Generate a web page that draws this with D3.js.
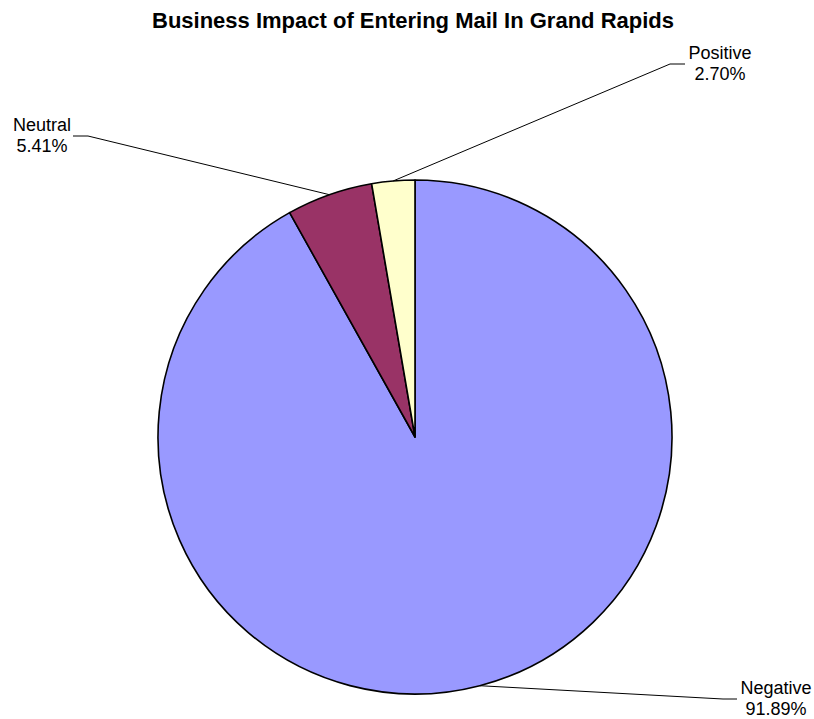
<!DOCTYPE html>
<html>
<head>
<meta charset="utf-8">
<script src="https://cdn.jsdelivr.net/npm/d3@7"></script>
<style>
  body { margin: 0; background: #fff; }
  svg { display: block; font-family: "Liberation Sans", Arial, sans-serif; }
</style>
</head>
<body>
<div id="chart"></div>
<script>
// chart data
const categories = ["Negative", "Neutral", "Positive"];
const values = [91.89, 5.41, 2.70];
const colors = ["#9999FF", "#993366", "#FFFFCC"];
const title = "Business Impact of Entering Mail In Grand Rapids";

const width = 814;
const height = 719;
const cx = 415, cy = 437, radius = 257;

// where each label sits (elbow of leader line and text centre)
const labelSpots = {
    Negative: { elbow: [723, 699], end: [737, 699], text: [776, 694] },
    Neutral: { elbow: [88, 136], end: [73, 136], text: [42, 131] },
    Positive: { elbow: [670, 64], end: [685, 64], text: [720, 59] }
};

const svg = d3.select("#chart").append("svg")
    .attr("width", width)
    .attr("height", height);

svg.append("text")
    .attr("x", 413)
    .attr("y", 28)
    .attr("text-anchor", "middle")
    .style("font-size", "22px")
    .style("font-weight", "bold")
    .text(title);

const data = categories.map((c, i) => ({ name: c, value: values[i], color: colors[i] }));

const pie = d3.pie()
    .sort(null)
    .value(d => d.value);

const arcs = pie(data);

const arc = d3.arc()
    .innerRadius(0)
    .outerRadius(radius);

const g = svg.append("g")
    .attr("transform", `translate(${cx},${cy})`);

g.selectAll("path")
    .data(arcs)
    .enter()
    .append("path")
    .attr("d", arc)
    .attr("fill", d => d.data.color)
    .attr("stroke", "#000")
    .attr("stroke-width", 1.6)
    .attr("stroke-linejoin", "round");

// leader lines + labels
arcs.forEach(a => {
    const spot = labelSpots[a.data.name];
    const mid = (a.startAngle + a.endAngle) / 2;
    const sx = cx + radius * Math.sin(mid);
    const sy = cy - radius * Math.cos(mid);
    svg.append("polyline")
        .attr("points", [[sx, sy], spot.elbow, spot.end].map(p => p.join(",")).join(" "))
        .attr("fill", "none")
        .attr("stroke", "#000")
        .attr("stroke-width", 1);

    const t = svg.append("text")
        .attr("text-anchor", "middle")
        .style("font-size", "18px")
        .attr("fill", "#000");
    t.append("tspan")
        .attr("x", spot.text[0])
        .attr("y", spot.text[1])
        .text(a.data.name);
    t.append("tspan")
        .attr("x", spot.text[0])
        .attr("y", spot.text[1] + 21)
        .text(a.data.value.toFixed(2) + "%");
});
</script>
</body>
</html>
